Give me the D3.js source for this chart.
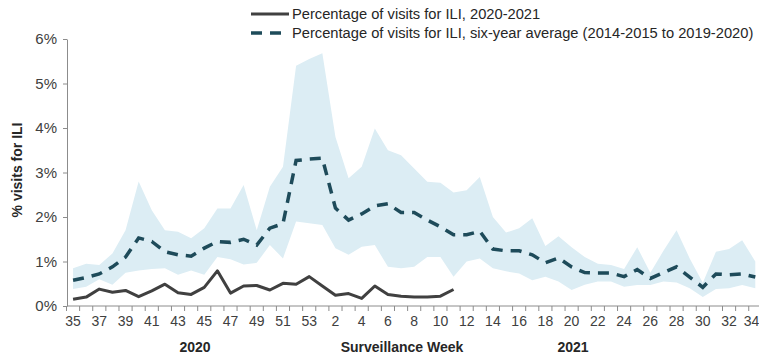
<!DOCTYPE html>
<html lang="en">
<head>
    <title>ILI visits</title>
    <script src="https://d3js.org/d3.v7.min.js"></script>
    <style>
        body { margin: 0; background: #fff; }
        text { font-family: "Liberation Sans", Arial, sans-serif; }
        .axis path, .axis line { stroke: #8c8c8c; }
        .axis text { fill: #404040; }
    </style>
</head>
<body>
    <svg id="plot"></svg>

    <script>
        // surveillance weeks, 2020 season part then 2021 part
        var weeks = [35, 36, 37, 38, 39, 40, 41, 42, 43, 44, 45, 46, 47, 48, 49, 50, 51, 52, 53,
            1, 2, 3, 4, 5, 6, 7, 8, 9, 10, 11, 12, 13, 14, 15, 16, 17, 18, 19, 20, 21, 22, 23, 24,
            25, 26, 27, 28, 29, 30, 31, 32, 33, 34];

        // % visits for ILI, 2020-2021 (ends at week 11)
        var current = [0.15, 0.20, 0.38, 0.31, 0.35, 0.21, 0.34, 0.49, 0.30, 0.26, 0.42, 0.79, 0.29,
            0.45, 0.46, 0.36, 0.51, 0.49, 0.66, 0.45, 0.24, 0.28, 0.17, 0.45, 0.26, 0.22, 0.20,
            0.20, 0.22, 0.37];

        // six-year average
        var average = [0.58, 0.64, 0.72, 0.88, 1.10, 1.53, 1.45, 1.22, 1.15, 1.12, 1.30, 1.45, 1.43,
            1.50, 1.37, 1.75, 1.85, 3.27, 3.30, 3.32, 2.20, 1.93, 2.07, 2.25, 2.30, 2.10, 2.10,
            1.93, 1.78, 1.60, 1.60, 1.68, 1.28, 1.24, 1.24, 1.15, 0.97, 1.08, 0.88, 0.75, 0.74,
            0.74, 0.66, 0.82, 0.62, 0.75, 0.88, 0.65, 0.42, 0.72, 0.70, 0.72, 0.65];

        // range of the six seasons (min / max)
        var rangeLow = [0.38, 0.43, 0.60, 0.48, 0.75, 0.80, 0.83, 0.85, 0.70, 0.80, 0.70, 1.10, 1.05,
            0.93, 0.97, 1.37, 1.07, 1.90, 1.86, 1.82, 1.30, 1.15, 1.33, 1.37, 0.88, 0.85, 0.88,
            1.10, 1.10, 0.66, 1.00, 1.07, 0.85, 0.78, 0.73, 0.58, 0.66, 0.55, 0.36, 0.48, 0.55,
            0.55, 0.43, 0.47, 0.47, 0.55, 0.53, 0.40, 0.20, 0.38, 0.40, 0.47, 0.40];
        var rangeHigh = [0.85, 0.95, 0.92, 1.18, 1.70, 2.80, 2.15, 1.70, 1.67, 1.52, 1.75, 2.19, 2.19,
            2.72, 1.70, 2.68, 3.13, 5.40, 5.55, 5.68, 3.80, 2.87, 3.13, 3.99, 3.50, 3.39, 3.09,
            2.79, 2.77, 2.55, 2.60, 2.90, 2.00, 1.65, 1.75, 1.97, 1.35, 1.57, 1.32, 1.10, 0.95,
            0.92, 0.83, 1.32, 0.75, 1.24, 1.70, 1.07, 0.52, 1.22, 1.28, 1.48, 1.00];

        var yTicks = [0, 1, 2, 3, 4, 5, 6];

        var W = 759, H = 358;
        var margin = { top: 39, right: 0, bottom: 52, left: 67 };

        var svg = d3.select("#plot").attr("width", W).attr("height", H);

        var keys = weeks.map(function (w, i) { return (i < 19 ? "2020-" : "2021-") + w; });

        var x = d3.scaleBand().domain(keys).range([66.5, 66.5 + 53 * 13.12]).padding(0);
        var y = d3.scaleLinear().domain([0, 6]).range([H - margin.bottom, margin.top]);

        function cx(i) { return x(keys[i]) + x.bandwidth() / 2; }

        // shaded range
        var area = d3.area()
            .x(function (d, i) { return cx(i); })
            .y0(function (d, i) { return y(rangeLow[i]); })
            .y1(function (d) { return y(d); });

        svg.append("path")
            .datum(rangeHigh)
            .attr("fill", "#dcedf4")
            .attr("d", area);

        // y axis
        var yAxis = svg.append("g")
            .attr("class", "axis")
            .attr("transform", "translate(" + margin.left + ",0)")
            .call(d3.axisLeft(y).tickValues(yTicks).tickSize(4).tickSizeOuter(0)
                .tickFormat(function (d) { return d + "%"; }));
        yAxis.selectAll("text").style("font-size", "15px").attr("x", -10);

        // x axis: labels at centres, every other week
        var xAxis = svg.append("g")
            .attr("class", "axis")
            .attr("transform", "translate(0," + y(0) + ")")
            .call(d3.axisBottom(x).tickSize(0).tickPadding(10)
                .tickFormat(function (d, i) { return i % 2 === 0 ? weeks[i] : ""; }));
        xAxis.select(".domain").attr("d", "M" + margin.left + ",0H" + W);
        xAxis.selectAll("text").style("font-size", "14px");
        // last label sits at the right edge, keep it inside
        xAxis.selectAll(".tick").filter(function (d) { return d === keys[keys.length - 1]; })
            .select("text").attr("text-anchor", "end").attr("dx", "4px");

        // tick marks between categories
        svg.append("g")
            .selectAll("line")
            .data(keys)
            .join("line")
            .attr("x1", function (d) { return x(d); })
            .attr("x2", function (d) { return x(d); })
            .attr("y1", y(0))
            .attr("y2", y(0) + 5)
            .attr("stroke", "#8c8c8c");

        // six-year average, dashed
        var valLine = d3.line()
            .x(function (d, i) { return cx(i); })
            .y(function (d) { return y(d); });

        svg.append("path")
            .datum(average)
            .attr("fill", "none")
            .attr("stroke", "#1e4b5a")
            .attr("stroke-width", 3.5)
            .attr("stroke-dasharray", "11,8")
            .attr("d", valLine);

        // current season, solid
        svg.append("path")
            .datum(current)
            .attr("fill", "none")
            .attr("stroke", "#404040")
            .attr("stroke-width", 3)
            .attr("stroke-linejoin", "round")
            .attr("d", valLine);

        // axis titles
        svg.append("text")
            .attr("transform", "translate(22,170) rotate(-90)")
            .attr("text-anchor", "middle")
            .style("font-size", "14px")
            .style("font-weight", "bold")
            .attr("fill", "#262626")
            .text("% visits for ILI");

        svg.append("text")
            .attr("x", 195).attr("y", 352)
            .attr("text-anchor", "middle")
            .style("font-size", "14px").style("font-weight", "bold")
            .attr("fill", "#262626")
            .text("2020");

        svg.append("text")
            .attr("x", 402).attr("y", 352)
            .attr("text-anchor", "middle")
            .style("font-size", "14px").style("font-weight", "bold")
            .attr("fill", "#262626")
            .text("Surveillance Week");

        svg.append("text")
            .attr("x", 573).attr("y", 352)
            .attr("text-anchor", "middle")
            .style("font-size", "14px").style("font-weight", "bold")
            .attr("fill", "#262626")
            .text("2021");

        // legend
        var legend = [
            { label: "Percentage of visits for ILI, 2020-2021", color: "#404040", dash: null, w: 3 },
            { label: "Percentage of visits for ILI, six-year average (2014-2015 to 2019-2020)", color: "#1e4b5a", dash: "11,8", w: 3.5 }
        ];

        var lg = svg.append("g").selectAll("g")
            .data(legend)
            .join("g")
            .attr("transform", function (d, i) { return "translate(251," + (14 + i * 19) + ")"; });

        lg.append("line")
            .attr("x1", 0).attr("x2", 38)
            .attr("stroke", function (d) { return d.color; })
            .attr("stroke-width", function (d) { return d.w; })
            .attr("stroke-dasharray", function (d) { return d.dash; });

        lg.append("text")
            .attr("x", 41)
            .attr("dy", "0.35em")
            .style("font-size", "14.7px")
            .attr("fill", "#262626")
            .text(function (d) { return d.label; });
    </script>
</body>
</html>
